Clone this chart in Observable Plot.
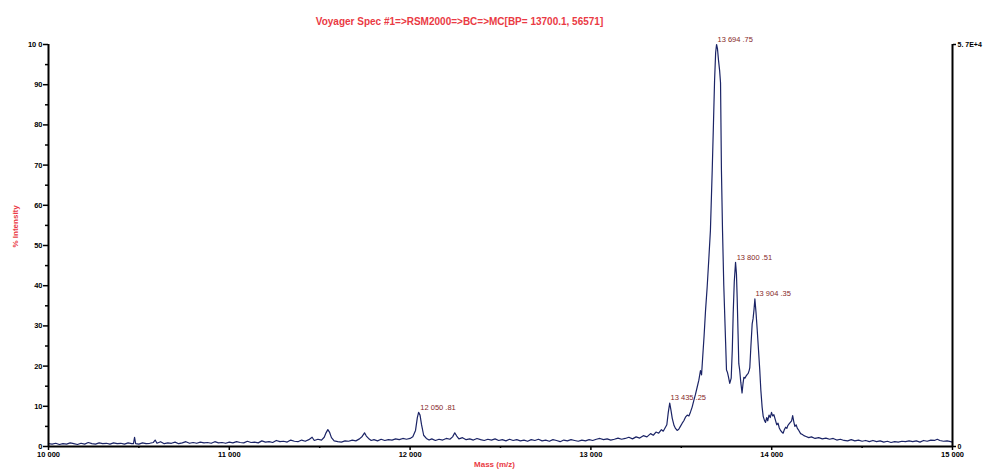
<!DOCTYPE html>
<html><head><meta charset="utf-8">
<script src="https://cdn.jsdelivr.net/npm/d3@7"></script>
<script src="https://cdn.jsdelivr.net/npm/@observablehq/plot@0.6"></script>
<style>body{margin:0;background:#fff;}</style>
</head><body><div id="chart"></div>
<script>
const title = "Voyager Spec #1=>RSM2000=>BC=>MC[BP= 13700.1, 56571]";
const xLabel = "Mass (m/z)";
const yLabel = "% Intensity";

const mass = [
10000,10020,10040,10060,10080,10100,10120,10140,10160,10180,10200,10220,10240,10260,10280,10300,10320,10340,10360,10380,10400,10420,10440,10460,10470,10476,10482,10500,10520,10540,10560,10580,10590,10600,10620,10640,10660,10680,10700,10720,10740,10760,10780,10800,10820,10840,10860,10880,10900,10920,10940,10960,10980,
11000,11020,11040,11060,11080,11100,11120,11140,11160,11180,11200,11220,11240,11260,11280,11300,11320,11340,11360,11380,11400,11420,11440,11458,11470,11490,11510,11525,11535,11545,11555,11565,11580,11600,11620,11640,11660,11680,11700,11720,11735,11748,11758,11770,11785,11800,11820,11840,11860,11880,11900,11920,11940,11960,11980,
12000,12015,12030,12040,12047,12055,12063,12075,12090,12105,12120,12140,12160,12180,12200,12220,12235,12247,12258,12270,12290,12310,12330,12350,12370,12390,12410,12430,12450,12470,12490,12510,12530,12550,12570,12590,12610,12630,12650,12670,12690,12710,12730,12750,12770,12790,12810,12830,12850,12870,12890,12910,12930,12950,12970,12990,
13010,13030,13050,13070,13090,13110,13130,13150,13170,13190,13210,13230,13250,13270,13290,13310,13330,13345,13360,13375,13390,13400,13410,13420,13428,13436,13443,13450,13460,13468,13477,13486,13495,13505,13514,13523,13533,13542,13551,13560,13569,13578,13588,13597,13606,13612,13618,13626,13634,13643,13652,13661,13671,13678,13684,13690,13695,13700,13706,13712,13717,13722,13728,13735,13745,13750,13755,13760,13768,13776,13782,13787,13793,13800,13805,13809,13814,13818,13823,13829,13836,13841,13846,13852,13858,13864,13870,13876,13879,13885,13892,13897,13902,13907,13913,13920,13927,13934,13940,13947,13953,13960,13966,13972,13978,13985,13992,13999,
14005,14012,14021,14028,14035,14042,14049,14056,14063,14070,14077,14084,14089,14096,14103,14110,14116,14122,14128,14135,14142,14150,14160,14170,14178,14190,14205,14220,14240,14260,14280,14300,14320,14340,14360,14380,14400,14420,14440,14460,14480,14500,14520,14540,14560,14580,14600,14620,14640,14660,14680,14700,14720,14740,14760,14780,14800,14820,14840,14860,14880,14900,14916,14930,14950,14970,14990,15000
];
const intensity = [
0.7,0.6,0.8,0.5,0.7,0.6,0.9,0.7,0.5,0.8,0.6,1.0,0.7,0.6,0.9,0.7,0.8,0.6,0.9,0.7,0.8,0.6,0.9,0.7,0.7,2.3,0.7,0.6,0.9,0.7,0.8,1.0,1.6,0.8,1.2,0.7,0.9,0.8,1.1,0.7,0.9,1.2,0.8,1.0,0.8,1.1,0.9,1.0,0.8,1.2,0.9,1.0,0.8,
1.1,0.9,1.2,1.0,0.9,1.3,1.0,1.1,0.9,1.4,1.1,1.2,1.0,1.5,1.2,1.3,1.1,1.6,1.3,1.2,1.6,1.3,1.7,2.3,1.5,1.8,1.6,2.3,3.4,4.2,3.5,2.2,1.4,1.2,1.1,1.4,1.3,1.6,1.4,1.9,2.5,3.4,2.6,2.0,1.5,1.7,1.4,1.8,1.5,1.7,1.6,1.9,1.7,2.0,1.8,
2.0,2.4,4.0,7.2,8.5,7.8,5.5,2.8,2.0,1.6,1.9,1.5,1.8,1.6,2.0,1.8,2.4,3.4,2.6,1.9,2.2,1.7,1.9,1.6,2.0,1.7,1.5,1.8,1.6,1.9,1.5,1.7,1.4,1.8,1.5,1.7,1.4,1.6,1.3,1.7,1.5,1.8,1.4,1.6,1.3,1.7,1.5,1.2,1.6,1.4,1.7,1.5,1.3,1.6,1.4,1.7,
1.5,1.8,2.0,1.7,1.9,1.6,1.8,2.1,1.8,2.0,2.3,1.9,2.4,2.1,2.7,2.4,3.2,2.8,3.6,3.3,4.2,3.8,4.6,5.4,8.5,10.8,9.0,7.0,5.2,4.5,4.0,4.3,5.0,5.8,6.4,7.3,7.8,7.6,8.6,9.8,11.4,12.9,14.8,16.5,18.9,17.8,22.0,27.5,33.8,39.6,46.5,53.7,68.7,80.5,91.0,98.0,100,99.0,96.0,93.5,90.5,68.7,53.7,40.0,26.0,19.0,18.5,17.5,15.7,17.0,24.0,33.0,41.0,45.8,43.0,37.0,28.0,20.6,19.0,16.0,13.3,15.5,17.2,17.0,17.5,17.9,18.2,19.0,19.7,25.0,30.5,31.8,34.0,36.7,33.5,28.9,24.0,19.0,14.0,9.8,7.5,6.5,6.0,7.2,6.4,7.8,7.2,8.5,
7.6,7.9,6.5,5.4,5.8,4.6,4.0,3.6,3.3,4.2,4.8,4.5,5.2,5.6,6.0,6.4,7.7,6.2,5.0,5.4,4.5,4.0,3.2,3.0,2.7,2.5,2.2,2.4,2.0,2.2,1.9,2.1,1.8,2.0,1.6,1.8,1.5,1.4,1.7,1.4,1.6,1.3,1.5,1.2,1.5,1.2,1.4,1.1,1.3,1.0,1.2,1.1,1.3,1.2,1.4,1.2,1.4,1.1,1.5,1.3,1.6,1.5,1.8,1.5,1.3,1.4,1.2,1.1
];

const peakMass = [12050.81, 13435.25, 13694.75, 13800.51, 13904.35];
const peakIntensity = [8.5, 10.8, 100, 45.8, 36.7];
const peakLabels = ["12 050 .81", "13 435 .25", "13 694 .75", "13 800 .51", "13 904 .35"];

const xTicks = [10000, 11000, 12000, 13000, 14000, 15000];
const xTickLabels = ["10 000", "11 000", "12 000", "13 000", "14 000", "15 000"];
const xMinorTicks = [10500, 11500, 12500, 13500, 14500];
const yTicks = [0, 10, 20, 30, 40, 50, 60, 70, 80, 90, 100];
const yTickLabels = ["0", "10", "20", "30", "40", "50", "60", "70", "80", "90", "10 0"];
const yMinorTicks = [5, 15, 25, 35, 45, 55, 65, 75, 85, 95];
const rightTicks = [0, 100];
const rightTickLabels = ["0", "5. 7E+4"];

const data = mass.map((m, i) => ({mass: m, intensity: intensity[i]}));
const peaks = peakMass.map((m, i) => ({mass: m, intensity: peakIntensity[i], label: peakLabels[i]}));

const red = "#ea3a44";
const chart = Plot.plot({
  width: 984, height: 473,
  marginLeft: 48, marginRight: 32, marginTop: 44, marginBottom: 27,
  style: {fontFamily: "Liberation Sans, Arial, sans-serif", background: "white", overflow: "visible"},
  x: {domain: [10000, 15000]},
  y: {domain: [0, 100]},
  marks: [
    Plot.line(data, {x: "mass", y: "intensity", stroke: "#1b2466", strokeWidth: 1.2}),
    Plot.ruleX([10000, 15000], {stroke: "black", strokeWidth: 2}),
    Plot.ruleY([0], {stroke: "black", strokeWidth: 2}),
    Plot.axisX(xTicks, {anchor: "bottom", tickSize: 4, tickPadding: 1, strokeWidth: 1.5, label: null,
      tickFormat: d => xTickLabels[xTicks.indexOf(d)], fontWeight: "bold", fontSize: 7.5, fill: "black"}),
    Plot.axisX(xMinorTicks, {anchor: "bottom", tickSize: 2, strokeWidth: 1.5, fill: "none", label: null}),
    Plot.axisY(yTicks, {anchor: "left", tickSize: 5, tickPadding: 1, strokeWidth: 1.5, label: null,
      tickFormat: d => yTickLabels[yTicks.indexOf(d)], fontWeight: "bold", fontSize: 7.5, fill: "black"}),
    Plot.axisY(yMinorTicks, {anchor: "left", tickSize: 3, strokeWidth: 1.5, fill: "none", label: null}),
    Plot.axisY(rightTicks, {anchor: "right", tickSize: 3, tickPadding: 2, strokeWidth: 1.5, label: null,
      tickFormat: d => rightTickLabels[rightTicks.indexOf(d)], fontWeight: "bold", fontSize: 7, fill: "black"}),
    Plot.text(peaks, {x: "mass", y: "intensity", text: "label", textAnchor: "start", dx: 1, dy: -5,
      fill: "#862828", fontSize: 7.5}),
    Plot.text([title], {text: d => d, frameAnchor: "top", dx: -41, dy: -27, fill: red, fontWeight: "bold", fontSize: 10}),
    Plot.text([xLabel], {text: d => d, frameAnchor: "bottom", dx: -6, dy: 20, fill: red, fontWeight: "bold", fontSize: 8}),
    Plot.text([yLabel], {text: d => d, frameAnchor: "left", rotate: -90, dx: -33, dy: 2, fill: red, fontWeight: "bold", fontSize: 8})
  ]
});
document.getElementById("chart").appendChild(chart);
</script>
</body></html>
